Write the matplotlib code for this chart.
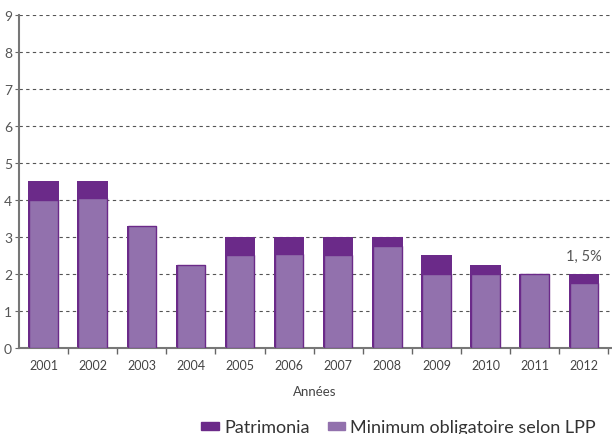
import numpy as np
import matplotlib
matplotlib.use("Agg")
import matplotlib.pyplot as plt
from matplotlib.patches import Patch

years = ["2001", "2002", "2003", "2004", "2005", "2006",
         "2007", "2008", "2009", "2010", "2011", "2012"]
patrimonia = [4.5, 4.5, 3.3, 2.25, 3.0, 3.0, 3.0, 3.0, 2.5, 2.25, 2.0, 2.0]
minimum_lpp = [4.0, 4.05, 3.3, 2.25, 2.5, 2.55, 2.5, 2.75, 2.0, 2.0, 2.0, 1.75]

dark = "#6b2a89"
light = "#9271ad"
grey = "#666666"

plt.rcParams['font.family'] = ['Lato', 'DejaVu Sans']

fig = plt.figure(figsize=(6.12, 4.35), dpi=100)
ax = fig.add_axes([0.031, 0.198, 0.967, 0.765])

x = np.arange(len(years))
w = 0.62
ax.bar(x, patrimonia, width=w, color=dark, zorder=2)
ax.bar(x, minimum_lpp, width=w - 0.04, color=light, edgecolor=dark,
       linewidth=1.0, zorder=3)

ax.text(x[-1], patrimonia[-1] + 0.3, "1, 5%", ha="center", va="bottom",
        fontsize=10.5, color="#555555")

ax.set_xlim(-0.5, 11.55)
ax.set_ylim(0, 9)
ax.set_yticks(range(10))
ax.set_xticks(x)
ax.set_xticklabels(years)
ax.set_xticks(np.arange(0.5, 11.6, 1.0), minor=True)
ax.tick_params(axis="x", which="major", length=0, labelsize=9,
               labelcolor="#444444", pad=8)
ax.tick_params(axis="x", which="minor", length=4, color=grey, width=1)
ax.tick_params(axis="y", length=3, color=grey, labelsize=10,
               labelcolor="#555555", pad=2)

ax.yaxis.grid(True, linestyle=(0, (3, 3)), color="#555555", linewidth=0.8)
ax.set_axisbelow(True)
for s in ["top", "right"]:
    ax.spines[s].set_visible(False)
for s in ["left", "bottom"]:
    ax.spines[s].set_color("#777777")
    ax.spines[s].set_linewidth(1.5)

ax.set_xlabel("Années", fontsize=9.5, color="#444444", labelpad=10)

handles = [Patch(color=dark, label="Patrimonia"),
           Patch(color=light, label="Minimum obligatoire selon LPP")]
fig.legend(handles=handles, loc="lower right", bbox_to_anchor=(1.0, -0.04),
           ncol=2, frameon=False, fontsize=13, handlelength=0.95,
           handleheight=0.3, handletextpad=0.3, columnspacing=1.0,
           labelcolor="#333333")

fig.savefig("out.png", dpi=100)
